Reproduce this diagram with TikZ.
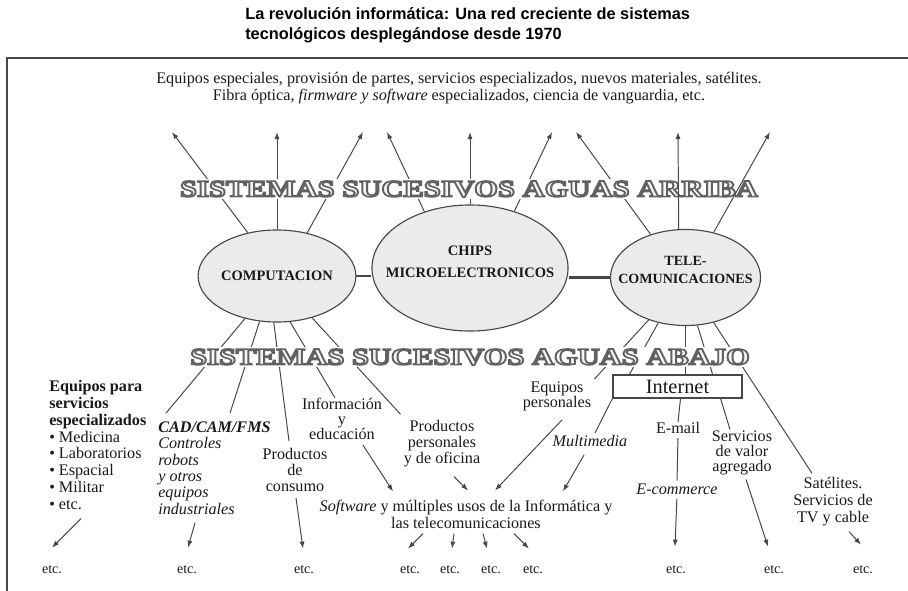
\documentclass[tikz,border=0pt]{standalone}
\usepackage{fontspec}
\setmainfont{Liberation Serif}
\newfontfamily\headfont{Liberation Sans}
\usepackage{graphicx}
\usetikzlibrary{arrows.meta,calc,positioning,shapes.geometric}

\definecolor{ink}{gray}{0.1}
\definecolor{edge}{gray}{0.28}
\definecolor{bubble}{gray}{0.92}

% hollow lettering: filled light, stroked dark (text render mode 2)
\newcommand{\hollow}[2]{\resizebox{#1}{11.2pt}{\special{pdf:literal direct 2 Tr 0.65 w 0.38 G}\bfseries #2\special{pdf:literal direct 0 Tr}}}

\begin{document}
\begin{tikzpicture}[x=0.025cm, y=-0.025cm,
    hub/.style={ellipse, draw=edge, fill=bubble, line width=0.8pt, inner sep=0pt},
    hubtext/.style={font=\bfseries\fontsize{10.3}{15.6}\selectfont, text=ink, align=center, inner sep=0pt},
    lbl/.style={font=\fontsize{11.5}{11.7}\selectfont, text=ink, align=center, inner sep=0pt},
    etcnode/.style={font=\fontsize{10}{12}\selectfont, text=ink, inner sep=0pt},
    band/.style={fill=white, text=gray!8, inner sep=1.5pt},
    spoke/.style={draw=edge, line width=0.7pt},
    arr/.style={spoke, -{Latex[length=5pt,width=3.6pt]}},
    link/.style={draw=edge, line width=1.6pt}]

    \useasboundingbox (0,0) rectangle (908,591);

    % Title and frame
    \node[anchor=west, align=left, inner sep=0pt, font=\headfont\bfseries\fontsize{11.6}{14.2}\selectfont] (title) at (245,25)
        {La revolución informática: Una red creciente de sistemas\\tecnológicos desplegándose desde 1970};
    \draw[edge, line width=1.2pt] (7,591) -- (7,58) -- (908,58);

    % Upstream supplies
    \node[lbl, font=\fontsize{11.5}{12.1}\selectfont] (supply) at (459,88)
        {Equipos especiales, provisión de partes, servicios especializados, nuevos materiales, satélites.\\
         Fibra óptica, \textit{firmware y software} especializados, ciencia de vanguardia, etc.};

    % The three hubs
    \node[hub, hubtext, minimum width=3.35cm, minimum height=2.3cm] (comp) at (277,276) {COMPUTACION};
    \node[hub, minimum width=4.9cm, minimum height=3.15cm] (chips) at (470,268) {};
    \node[hub, minimum width=3.75cm, minimum height=2.4cm] (tele) at (685.5,277.5) {};
    \node[hubtext] (chipsname) at (470,262) {CHIPS\\MICROELECTRONICOS};
    \node[hubtext, font=\bfseries\fontsize{10}{12.8}\selectfont] (telename) at (685.5,270) {TELE-\\COMUNICACIONES};
    \draw[link] (comp.east) -- (comp.east -| chips.west);
    \draw[link] (tele.west) -- (tele.west -| chips.east);

    % Downstream fields
    \node[lbl, anchor=west, align=left, font=\fontsize{11.5}{11.9}\selectfont] (eqpara) at (49,445)
        {\textbf{Equipos para}\\\textbf{servicios}\\\textbf{especializados}\\• Medicina\\• Laboratorios\\• Espacial\\• Militar\\• etc.};
    \node[lbl, anchor=west, align=left, font=\itshape\fontsize{11.5}{11.7}\selectfont] (cad) at (158,468)
        {\textbf{CAD/CAM/FMS}\\Controles\\robots\\y otros\\equipos\\industriales};
    \node[lbl, font=\fontsize{11.5}{11.4}\selectfont] (consumo) at (295,470) {Productos\\de\\consumo};
    \node[lbl, font=\fontsize{11.5}{10.7}\selectfont] (info) at (342,419) {Información\\y\\educación};
    \node[lbl, font=\fontsize{11.5}{11.4}\selectfont] (prodpers) at (442,444) {Productos\\personales\\y de oficina};
    \node[lbl, font=\fontsize{11.5}{10.7}\selectfont] (eqpers) at (557,396) {Equipos\\personales};
    \node[draw=edge, line width=0.8pt, minimum width=3.225cm, minimum height=0.575cm, inner sep=0pt,
          font=\fontsize{14.5}{16}\selectfont, text=ink] (internet) at (677.5,386.5) {Internet};
    \node[lbl, font=\itshape\fontsize{11.5}{11.7}\selectfont] (multimedia) at (590,441) {Multimedia};
    \node[lbl] (email) at (678,428) {E-mail};
    \node[lbl, font=\itshape\fontsize{11.5}{11.7}\selectfont] (ecommerce) at (677,489) {E-commerce};
    \node[lbl, font=\fontsize{11.5}{10.7}\selectfont] (servicios) at (742,453) {Servicios\\de valor\\agregado};
    \node[lbl, font=\fontsize{11.5}{12.1}\selectfont] (satelites) at (833,502) {Satélites.\\Servicios de\\TV y cable};
    \node[lbl, font=\fontsize{11.5}{12.1}\selectfont] (software) at (466,514)
        {\textit{Software} y múltiples usos de la Informática y\\las telecomunicaciones};
    \foreach \n/\x in {1/52,2/187,3/304,4/410,5/450,6/491,7/533,8/676,9/774,10/863}
        \node[etcnode] (etc\n) at (\x,570) {etc.};

    % Upstream arrows
    \foreach \n/\x in {1/172,2/277,3/363,4/387,5/470,6/552,7/576,8/678,9/770}
        \coordinate (up\n) at (\x,132);
    \foreach \hub/\ang/\n in {comp/124.3/1, comp/90/2, comp/55.7/3, chips/129.4/4, chips/90/5, chips/52.5/6, tele/129.4/7}
        \draw[arr] (\hub.\ang) -- (up\n);

    % Downstream spokes
    \draw[spoke] (comp.-127.3) -- ($(cad.north west)+(8,-8)$);
    \draw[spoke] (comp.-111.4) -- ($(cad.north west)+(72,-8)$);
    \draw[spoke] (comp.-94.9) -- ($(consumo.north)+(-6,-7)$);
    \draw[spoke] (comp.-74.2) -- ($(info.north)+(-7,0)$);
    \draw[spoke] (comp.-50.2) -- ($(prodpers.north west)+(-3,-6)$);
    \draw[spoke] (tele.-131.4) -- ($(eqpers.north east)+(3,-2)$);
    \draw[spoke] (tele.-121.9) -- ($(internet.north west)+(17,0)$);
    \draw[spoke] (tele.-90) -- (tele.-90 |- internet.north);
    \draw[spoke] (tele.-76.8) -- ($(internet.north east)+(-30,0)$);
    \draw[spoke] (tele.-58.1) -- ($(satelites.north)+(-21,-4)$);
    \draw[spoke] (internet.south west) -- ($(multimedia.north)+(5,-2)$);
    \draw[spoke] ($(internet.south)+(3,0)$) -- (email.north);
    \draw[spoke] ($(internet.south east)+(-22,0)$) -- ($(servicios.north)+(-12,-1)$);
    \draw[spoke, shorten <=3pt, shorten >=2pt] (email.south) -- (ecommerce.north);

    % Arrows into software and down to etc.
    \draw[arr] ($(info.south)+(21,5)$) -- ($(software.north)+(-73,-8)$);
    \draw[arr] ($(prodpers.south)+(12,9)$) -- ($(software.north)+(2,-9)$);
    \draw[arr] ($(eqpers.south)+(5,9)$) -- ($(software.north)+(29,-9)$);
    \draw[arr] ($(multimedia.south)+(-6,8)$) -- ($(software.north)+(97,-8)$);
    \draw[arr] ($(eqpara.south west)+(32,9)$) -- ($(etc1.north)+(0,-18)$);
    \draw[arr] ($(cad.south west)+(37,8)$) -- ($(etc2.north)+(1,-18)$);
    \draw[arr] ($(consumo.south)+(1,6)$) -- ($(etc3.north)+(-1,-17)$);
    \foreach \dx/\n/\ex in {-43/4/-2, -12/5/2, 17/6/-4, 48/7/-4}
        \draw[arr] ($(software.south)+(\dx,5)$) -- ($(etc\n.north)+(\ex,-17)$);
    \draw[arr, shorten <=3pt] (ecommerce.south) -- ($(etc8.north)+(-1,-19)$);
    \draw[arr] ($(servicios.south)+(4,4)$) -- ($(etc9.north)+(-6,-19)$);
    \draw[arr] ($(satelites.south)+(16,5)$) -- ($(etc10.north)+(-2,-21)$);

    % Bands of successive systems
    \node[band] (upband) at (469,189) {\hollow{411pt}{SISTEMAS SUCESIVOS AGUAS ARRIBA}};
    \node[band] (downband) at (470,357) {\hollow{398pt}{SISTEMAS SUCESIVOS AGUAS ABAJO}};

    % Two spokes that run over the upper band
    \draw[arr] (tele.98) -- (up8);
    \draw[arr] (tele.58) -- (up9);
\end{tikzpicture}
\end{document}
